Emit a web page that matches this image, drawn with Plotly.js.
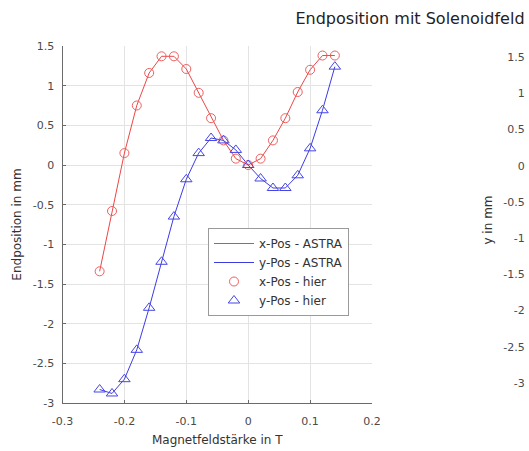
<!DOCTYPE html>
<html>
<head>
<meta charset="utf-8">
<script src="https://cdn.plot.ly/plotly-3.0.1.min.js"></script>
<style>
html,body{margin:0;padding:0;overflow:hidden;background:#fff;}
#chart{width:529px;height:451px;}
</style>
</head>
<body>
<div id="chart"></div>
<script>
// Magnetic field strength (T)
var field = [-0.24,-0.22,-0.20,-0.18,-0.16,-0.14,-0.12,-0.10,-0.08,-0.06,-0.04,-0.02,0.00,0.02,0.04,0.06,0.08,0.10,0.12,0.14];
// ASTRA results (mm)
var xPosAstra = [-1.34,-0.58,0.15,0.75,1.16,1.37,1.37,1.21,0.91,0.59,0.31,0.08,0.00,0.08,0.31,0.59,0.92,1.20,1.38,1.38];
var yPosAstra = [-2.83,-2.88,-2.70,-2.33,-1.80,-1.22,-0.65,-0.18,0.15,0.34,0.31,0.19,0.00,-0.17,-0.29,-0.29,-0.13,0.21,0.69,1.24];
// own results ("hier") (mm)
var xPosHier = [-1.34,-0.58,0.15,0.75,1.16,1.37,1.37,1.21,0.91,0.59,0.31,0.08,0.00,0.08,0.31,0.59,0.92,1.20,1.38,1.38];
var yPosHier = [-2.83,-2.88,-2.70,-2.33,-1.80,-1.22,-0.65,-0.18,0.15,0.34,0.31,0.19,0.00,-0.17,-0.29,-0.29,-0.13,0.21,0.69,1.24];
// right subplot: only the very edge is visible
var rightX = [1.2];
var rightY = [-2.89];

var xTickVals = [-0.3,-0.2,-0.1,0,0.1,0.2];
var xTickText = ['-0.3','-0.2','-0.1','0','0.1','0.2'];
var yTickVals = [-3,-2.5,-2,-1.5,-1,-0.5,0,0.5,1,1.5];
var yTickText = ['-3','-2.5','-2','-1.5','-1','-0.5','0','0.5','1','1.5'];

var W = 529, H = 451;
var FONT = 'DejaVu Sans, Arial, sans-serif';
var red = 'rgb(235,70,70)';
var redM = 'rgb(238,95,95)';
var blue = 'rgb(60,60,225)';
var blueM = 'rgb(70,70,230)';

var traces = [
  {x: field, y: xPosAstra, mode: 'lines', name: 'x-Pos - ASTRA', line: {color: red, width: 1}, xaxis: 'x', yaxis: 'y'},
  {x: field, y: yPosAstra, mode: 'lines', name: 'y-Pos - ASTRA', line: {color: blue, width: 1}, xaxis: 'x', yaxis: 'y'},
  {x: field, y: xPosHier, mode: 'markers', name: 'x-Pos - hier', marker: {symbol: 'circle-open', size: 9, color: redM, line: {width: 1}}, xaxis: 'x', yaxis: 'y'},
  {x: field, y: yPosHier, mode: 'markers', name: 'y-Pos - hier', marker: {symbol: 'triangle-up-open', size: 10, color: blueM, line: {width: 1}}, xaxis: 'x', yaxis: 'y'},
  {x: rightX, y: rightY, mode: 'markers', showlegend: false, cliponaxis: false, marker: {symbol: 'circle-open', size: 9, color: redM, line: {width: 1}}, xaxis: 'x2', yaxis: 'y2'}
];

var axisCol = '#6a6a6a';
var layout = {
  width: W, height: H,
  margin: {l: 0, r: 0, t: 0, b: 0},
  paper_bgcolor: '#fff', plot_bgcolor: 'rgba(0,0,0,0)',
  font: {family: FONT, size: 11, color: '#444'},
  showlegend: true,
  title: {text: 'Endposition mit Solenoidfeld', x: 410/W, xanchor: 'center', xref: 'paper', y: 1 - 18/H, yanchor: 'middle', yref: 'paper', font: {family: FONT, size: 16, color: '#222'}},
  xaxis: {
    domain: [62.5/W, 372/W], range: [-0.3, 0.2], tickmode: 'array', tickvals: xTickVals, ticktext: xTickText,
    showline: true, linecolor: axisCol, linewidth: 1, ticks: 'inside', ticklen: 3, tickcolor: axisCol,
    showgrid: true, gridcolor: '#e3e3e3', zeroline: false, ticklabelstandoff: 8,
    tickfont: {family: FONT, size: 11, color: '#4a4a4a'},
    title: {text: 'Magnetfeldstärke in T', font: {family: FONT, size: 12, color: '#333'}, standoff: 8},
    anchor: 'y'
  },
  yaxis: {
    domain: [(H-403)/H, (H-46)/H], range: [-3, 1.5], tickmode: 'array', tickvals: yTickVals, ticktext: yTickText,
    showline: true, linecolor: axisCol, linewidth: 1, ticks: 'inside', ticklen: 3, tickcolor: axisCol,
    showgrid: true, gridcolor: '#e3e3e3', zeroline: false, ticklabelstandoff: 5,
    tickfont: {family: FONT, size: 11, color: '#4a4a4a'},
    title: {text: 'Endposition in mm', font: {family: FONT, size: 12, color: '#333'}, standoff: 8},
    anchor: 'x'
  },
  xaxis2: {domain: [0.99, 1], range: [0, 1], visible: false, anchor: 'y2', fixedrange: true},
  yaxis2: {
    domain: [(H-383)/H, (H-57)/H], range: [-3, 1.5], tickmode: 'array', tickvals: yTickVals, ticktext: yTickText,
    showline: false, ticks: '', showgrid: false, zeroline: false, ticklabelstandoff: -2,
    tickfont: {family: FONT, size: 11, color: '#4a4a4a'},
    title: {text: 'y in mm', font: {family: FONT, size: 12, color: '#333'}, standoff: 8},
    anchor: 'x2'
  },
  legend: {
    x: 208/W, y: 1 - 228/H, xanchor: 'left', yanchor: 'top',
    bgcolor: '#fff', bordercolor: '#9a9a9a', borderwidth: 1,
    font: {family: FONT, size: 12, color: '#333'}, itemwidth: 40, tracegroupgap: 0
  }
};

Plotly.newPlot('chart', traces, layout, {displayModeBar: false, staticPlot: true});
</script>
</body>
</html>
